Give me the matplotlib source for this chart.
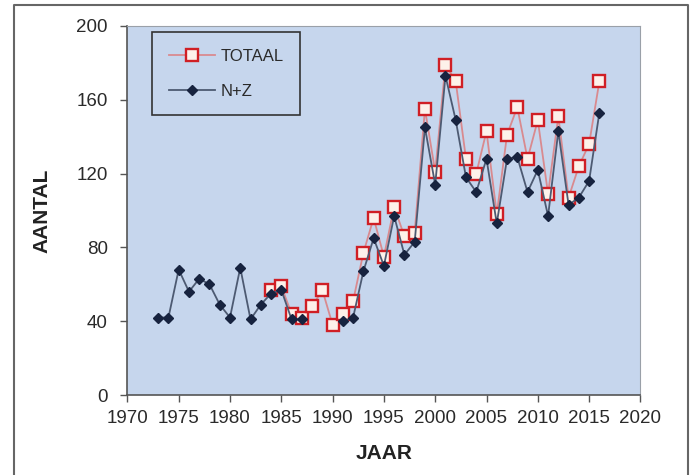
import numpy as np
import matplotlib
matplotlib.use("Agg")
import matplotlib.pyplot as plt
from matplotlib.lines import Line2D

# data
jaren_totaal = list(range(1984, 2017))
totaal = [57, 59, 44, 42, 48, 57, 38, 44, 51, 77, 96, 75, 102, 86, 88,
          155, 121, 179, 170, 128, 120, 143, 98, 141, 156, 128, 149, 109,
          151, 107, 124, 136, 170]

jaren_nz = list(range(1973, 2017))
nz = [42, 42, 68, 56, 63, 60, 49, 42, 69, 41, 49, 55, 57, 41, 41,
      np.nan, np.nan, np.nan, 40, 42, 67, 85, 70, 97, 76, 83,
      145, 114, 173, 149, 118, 110, 128, 93, 128, 129, 110, 122, 97,
      143, 103, 107, 116, 153]

xticks = list(range(1970, 2021, 5))
yticks = [0, 40, 80, 120, 160, 200]

plt.rcParams['font.family'] = ['Liberation Sans', 'DejaVu Sans']

fig = plt.figure(figsize=(6.93, 4.75), dpi=100)
ax = fig.add_axes([127.4 / 693, 80 / 475, 513 / 693, 369 / 475])
ax.set_facecolor('#c6d6ed')

ax.plot(jaren_totaal, totaal, color='#d98a8f', lw=1.3, marker='s',
        markersize=8, markerfacecolor='#fdf1ea', markeredgecolor='#d01f25',
        markeredgewidth=1.7, label='TOTAAL', zorder=3)
ax.plot(jaren_nz, nz, color='#4d5a72', lw=1.3, marker='D',
        markersize=5.5, markerfacecolor='#17233f', markeredgecolor='#17233f',
        label='N+Z', zorder=4)

ax.set_xlim(1970, 2020)
ax.set_ylim(0, 200)
ax.set_xticks(xticks)
ax.set_yticks(yticks)
ax.tick_params(direction='out', length=5, width=1, color='#555555',
               labelsize=13.5, labelcolor='#2a2a2a')
ax.tick_params(axis='y', pad=9)
ax.tick_params(axis='x', pad=6)
for s in ax.spines.values():
    s.set_color('#9aa0a8')
    s.set_linewidth(0.8)
ax.spines['left'].set_color('#555555')
ax.spines['bottom'].set_color('#555555')
ax.spines['left'].set_linewidth(1.2)
ax.spines['bottom'].set_linewidth(1.2)

ax.set_xlabel('JAAR', fontsize=15, fontweight='bold', labelpad=12,
              color='#222222')
ax.set_ylabel('AANTAL', fontsize=15, fontweight='bold', labelpad=18,
              color='#222222')

leg = ax.legend(loc='upper left', bbox_to_anchor=(152 / 693, 1 - 32 / 475),
                bbox_transform=fig.transFigure, fontsize=12, frameon=True,
                fancybox=False, handlelength=2.8, labelspacing=1.2,
                borderpad=1.0, borderaxespad=0, handletextpad=0.3)
leg.get_frame().set_edgecolor('#333333')
leg.get_frame().set_facecolor('#c6d6ed')
leg.get_frame().set_linewidth(1.2)
leg.get_frame().set_alpha(1)
for t in leg.get_texts():
    t.set_color('#2a2a2a')

# grey frame around the picture
l = 14 / 693
r = 688 / 693
t = 1 - 5 / 475
fig.add_artist(Line2D([l, l, r, r], [0, t, t, 0], transform=fig.transFigure,
                      color='#666666', lw=1.5))

fig.savefig('out.png', dpi=100)
